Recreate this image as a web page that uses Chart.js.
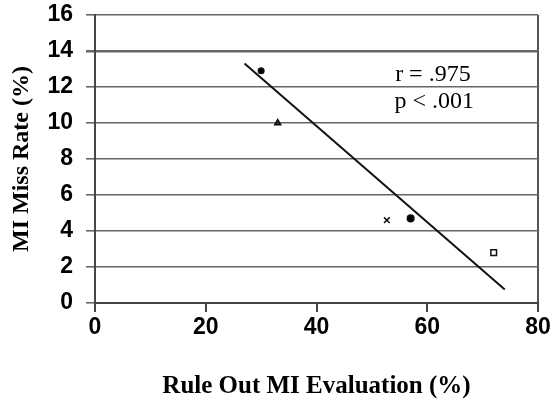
<!DOCTYPE html>
<html>
<head>
<meta charset="utf-8">
<script src="https://cdn.jsdelivr.net/npm/chart.js@4/dist/chart.umd.min.js"></script>
<style>
  html, body { margin: 0; padding: 0; background: #fff; }
  #wrap { width: 553px; height: 406px; }
</style>
</head>
<body>
<div id="wrap"><canvas id="myChart" width="553" height="406"></canvas></div>
<script>
// data
const ruleOut = [30, 33, 52.7, 57, 72];
const missRate = [12.9, 10, 4.6, 4.7, 2.8];
const markers = ['circle', 'triangle', 'crossRot', 'circle', 'rect'];
const markerSize = [2.8, 3.5, 4, 3.3, 4];
const markerFill = ['#000', '#333', '#000', '#000', '#fff'];
const fitX = [27, 74];
const fitY = [13.3, 0.75];
const xTicks = [0, 20, 40, 60, 80];
const yTicks = [0, 2, 4, 6, 8, 10, 12, 14, 16];
const stats = ['r = .975', 'p < .001'];
const statPos = [[54.2, 12.7], [54.1, 11.2]];

const statsText = {
  id: 'statsText',
  afterDatasetsDraw(chart) {
    const c = chart.ctx;
    const xs = chart.scales.x, ys = chart.scales.y;
    c.save();
    c.fillStyle = '#000';
    c.font = '24px "Liberation Serif", "Times New Roman", serif';
    c.textBaseline = 'middle';
    c.textAlign = 'left';
    stats.forEach((t, i) => {
      c.fillText(t, xs.getPixelForValue(statPos[i][0]), ys.getPixelForValue(statPos[i][1]));
    });
    c.restore();
  }
};

const ctx = document.getElementById('myChart');
new Chart(ctx, {
  type: 'scatter',
  data: {
    datasets: [{
      label: 'fit',
      data: fitX.map((x, i) => ({ x: x, y: fitY[i] })),
      showLine: true,
      borderColor: '#111',
      borderWidth: 2,
      pointRadius: 0
    }, {
      label: 'studies',
      data: ruleOut.map((x, i) => ({ x: x, y: missRate[i] })),
      pointStyle: markers,
      pointRadius: markerSize,
      pointBackgroundColor: markerFill,
      pointBorderColor: '#111',
      pointBorderWidth: 1.5
    }]
  },
  options: {
    responsive: false,
    maintainAspectRatio: false,
    animation: false,
    layout: { padding: { top: 15, right: 15, left: 0, bottom: 0 } },
    plugins: {
      legend: { display: false },
      tooltip: { enabled: false }
    },
    scales: {
      x: {
        type: 'linear',
        min: 0,
        max: 80,
        afterBuildTicks: s => { s.ticks = xTicks.map(v => ({ value: v })); },
        afterFit: s => { s.height = 103; },
        border: { color: '#444', width: 2 },
        grid: {
          color: c => (c.tick && c.tick.value === 80) ? '#555' : 'rgba(0,0,0,0)',
          lineWidth: 2,
          tickColor: '#444',
          tickWidth: 2,
          tickLength: 9
        },
        ticks: {
          color: '#000',
          padding: 2,
          maxRotation: 0,
          font: { family: '"Liberation Sans", Arial, sans-serif', size: 23, weight: 'bold' }
        },
        title: {
          display: true,
          text: 'Rule Out MI Evaluation (%)',
          color: '#000',
          padding: { top: 0, bottom: 4 },
          font: { family: '"Liberation Serif", "Times New Roman", serif', size: 25, weight: 'bold' }
        }
      },
      y: {
        type: 'linear',
        min: 0,
        max: 16,
        afterBuildTicks: s => { s.ticks = yTicks.map(v => ({ value: v })); },
        afterFit: s => { s.width = 95; s.paddingTop = 0; s.paddingBottom = 0; },
        border: { color: '#444', width: 2 },
        grid: {
          color: '#666',
          lineWidth: c => (c.tick && c.tick.value === 14) ? 2.5 : 1.6,
          tickLength: 9
        },
        ticks: {
          color: '#000',
          padding: 13,
          font: { family: '"Liberation Sans", Arial, sans-serif', size: 23, weight: 'bold' }
        },
        title: {
          display: true,
          text: 'MI Miss Rate (%)',
          color: '#000',
          padding: { top: 7, bottom: 0 },
          font: { family: '"Liberation Serif", "Times New Roman", serif', size: 24, weight: 'bold' }
        }
      }
    }
  },
  plugins: [statsText]
});
</script>
</body>
</html>
